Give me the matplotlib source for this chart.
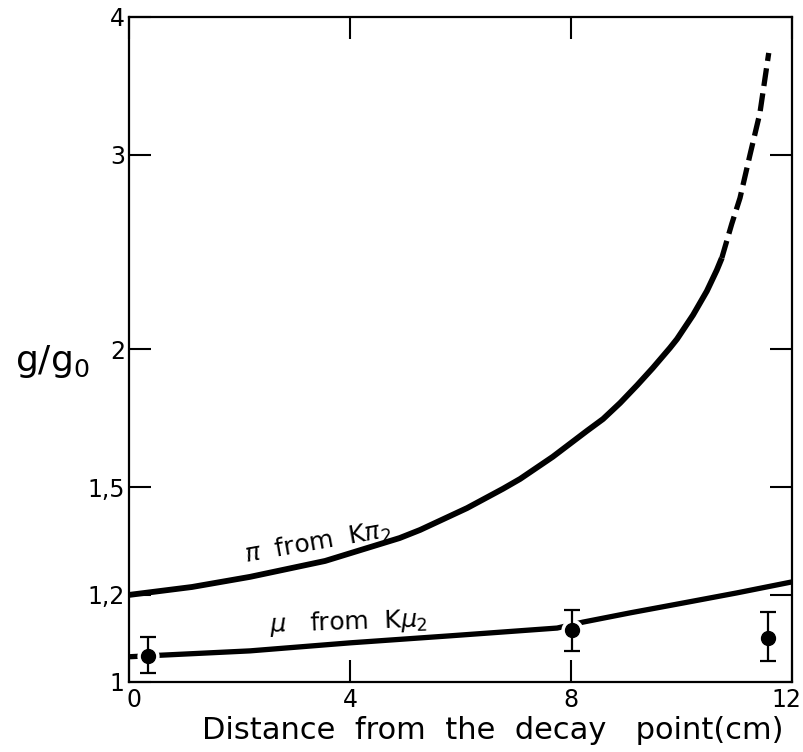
import numpy as np
import matplotlib
matplotlib.use("Agg")
import matplotlib.pyplot as plt
from matplotlib.transforms import ScaledTranslation

# pi from K_pi2 curve (solid part, then dashed extrapolation)
pi_x = [0, 1.14, 2.19, 3.55, 4.9, 5.27, 6.12, 6.77, 7.08, 7.67, 8.29, 8.58,
        8.89, 9.2, 9.48, 9.79, 9.92, 10.21, 10.46, 10.64, 10.73]
pi_y = [1.199, 1.219, 1.245, 1.287, 1.35, 1.373, 1.437, 1.496, 1.527, 1.599, 1.688, 1.73,
        1.789, 1.857, 1.924, 2.006, 2.044, 2.149, 2.259, 2.36, 2.42]
pi_dash_x = [10.73, 10.91, 11.06, 11.24, 11.42, 11.58]
pi_dash_y = [2.42, 2.598, 2.743, 3.0, 3.274, 3.711]

# mu from K_mu2 curve
mu_x = [0, 2.19, 4.0, 5.81, 7.75, 8.22, 9.07, 10.03, 11.0, 12.0]
mu_y = [1.054, 1.067, 1.085, 1.101, 1.119, 1.133, 1.155, 1.179, 1.204, 1.232]

# measured points with error bars
pts_x = [0.34, 8.02, 11.57]
pts_y = [1.056, 1.115, 1.096]
pts_lo = [1.019, 1.067, 1.045]
pts_hi = [1.098, 1.162, 1.157]

xticks = [0, 4, 8, 12]
yticks = [1, 1.2, 1.5, 2, 3, 4]
ytick_labels = ["1", "1,2", "1,5", "2", "3", "4"]

fig = plt.figure(figsize=(8.04, 7.52), dpi=100)
ax = fig.add_axes([0.1604, 0.0931, 0.8246, 0.8843])

ax.set_yscale("log")
ax.set_xlim(0, 12)
ax.set_ylim(1, 4)

ax.plot(pi_x, pi_y, color="black", lw=4.2, solid_capstyle="butt",
        solid_joinstyle="round", zorder=2)
ax.plot(pi_dash_x, pi_dash_y, color="black", lw=3.8, dashes=(3.4, 1.4), zorder=2)
ax.plot(mu_x, mu_y, color="black", lw=3.8, solid_capstyle="butt",
        solid_joinstyle="round", zorder=2)

# white halo behind the points -> gap in the curve
ax.plot(pts_x, pts_y, "o", color="white", ms=16, mec="none", zorder=3)
err = [np.array(pts_y) - np.array(pts_lo), np.array(pts_hi) - np.array(pts_y)]
ax.errorbar(pts_x, pts_y, yerr=err, fmt="o", color="black", ms=10,
            elinewidth=1.6, capsize=5.8, capthick=1.6, zorder=4)

ax.text(3.42, 1.336, r"$\pi$  from  K$\pi_2$", fontsize=18, rotation=10,
        ha="center", va="center", rotation_mode="anchor")
ax.text(3.97, 1.133, r"$\mu$   from  K$\mu_2$", fontsize=18, rotation=2,
        ha="center", va="center", rotation_mode="anchor")

ax.set_xticks(xticks)
ax.set_xticklabels([str(t) for t in xticks])
ax.set_yticks(yticks)
ax.set_yticklabels(ytick_labels)
ax.yaxis.set_minor_locator(matplotlib.ticker.NullLocator())

ax.tick_params(axis="both", which="major", direction="in", length=15.5, width=1.5,
               labelsize=17, top=True, right=True)
ax.tick_params(axis="x", pad=4)
ax.tick_params(axis="y", pad=3)
for s in ax.spines.values():
    s.set_linewidth(1.6)

# end labels sit a little inside the frame
xl = ax.get_xticklabels()
xl[0].set_transform(xl[0].get_transform() + ScaledTranslation(5 / 100, 0, fig.dpi_scale_trans))
xl[-1].set_transform(xl[-1].get_transform() + ScaledTranslation(-6 / 100, 0, fig.dpi_scale_trans))

fig.text(0.019, 0.519, r"g/g$_\mathregular{0}$", fontsize=26, ha="left", va="center")
fig.text(0.613, 0.029, "Distance  from  the  decay   point(cm)", fontsize=22,
         ha="center", va="center")

fig.savefig("out.png", dpi=100)
